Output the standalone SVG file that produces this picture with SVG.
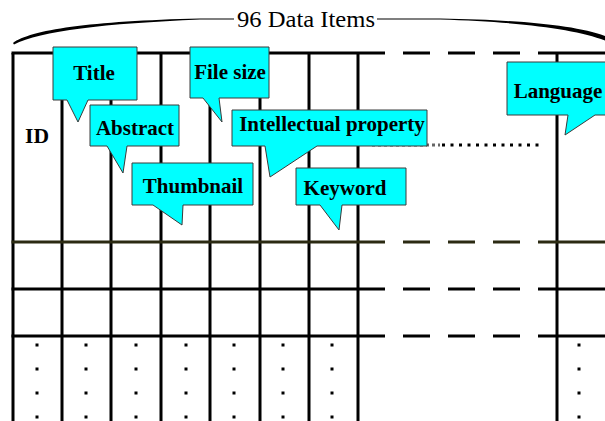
<svg xmlns="http://www.w3.org/2000/svg" width="605" height="421" viewBox="0 0 605 421">
<style>
.g{stroke:#000;stroke-width:3;fill:none}
.d{stroke:#000;stroke-width:3;fill:none;stroke-dasharray:27 18}
.olive{stroke:#2b2a12}
.co{fill:#00ffff;stroke:#3a3a3a;stroke-width:1}
.lbl{font-family:"Liberation Serif","Times New Roman",serif;font-weight:bold;font-size:21px;fill:#000;text-anchor:middle}
.hd{font-family:"Liberation Serif","Times New Roman",serif;font-size:23px;fill:#000}
.dot{fill:#000}
</style>
<defs>
<g id="dotcol">
<rect x="-1.5" y="343.5" width="3" height="3"/>
<rect x="-1.5" y="367.5" width="3" height="3"/>
<rect x="-1.5" y="391.5" width="3" height="3"/>
<rect x="-1.5" y="415.5" width="3" height="3"/>
</g>
</defs>
<rect width="605" height="421" fill="#fff"/>
<g id="header">
<path d="M13,43 C30,30 90,21 200,18.5 L234,18.5 L234,19.5 L200,19.5 C105,23.5 40,31 14,44.5 Z" fill="#000"/>
<path d="M377,18.5 L440,18.5 C520,20 575,25 605,36 L605,40.5 C575,29 520,22 440,19.5 L377,19.5 Z" fill="#000"/>
<text class="hd" x="237" y="27" textLength="138" lengthAdjust="spacingAndGlyphs">96 Data Items</text>
</g>
<g id="grid">
<line class="g" x1="13" y1="53" x2="13" y2="421"/>
<line class="g" x1="62" y1="53" x2="62" y2="421"/>
<line class="g" x1="111" y1="53" x2="111" y2="421"/>
<line class="g" x1="161" y1="53" x2="161" y2="421"/>
<line class="g" x1="210" y1="53" x2="210" y2="421"/>
<line class="g" x1="260" y1="53" x2="260" y2="421"/>
<line class="g" x1="309" y1="53" x2="309" y2="421"/>
<line class="g" x1="358" y1="53" x2="358" y2="421"/>
<line class="g" x1="557" y1="53" x2="557" y2="421" stroke-width="4"/>
<line class="g" x1="11.5" y1="53" x2="358" y2="53" stroke-width="4"/>
<line class="d" x1="358" y1="53" x2="557" y2="53" stroke-width="4" stroke-dasharray="29 16"/>
<line class="g" x1="557" y1="53" x2="605" y2="53" stroke-width="4"/>
<line class="g olive" x1="11.5" y1="242" x2="358" y2="242"/>
<line class="d olive" x1="358" y1="242" x2="557" y2="242"/>
<line class="g olive" x1="557" y1="242" x2="605" y2="242"/>
<line class="g" x1="11.5" y1="289" x2="358" y2="289"/>
<line class="d" x1="358" y1="289" x2="557" y2="289"/>
<line class="g" x1="557" y1="289" x2="605" y2="289"/>
<line class="g" x1="11.5" y1="336" x2="358" y2="336"/>
<line class="d" x1="358" y1="336" x2="557" y2="336"/>
<line class="g" x1="557" y1="336" x2="605" y2="336"/>
<line x1="372" y1="145" x2="440" y2="145" stroke="#666" stroke-width="3" stroke-dasharray="3 3"/>
<line x1="442" y1="145" x2="542" y2="145" stroke="#000" stroke-width="3" stroke-dasharray="3 5.5"/>
<g class="dot">
<use href="#dotcol" x="37"/>
<use href="#dotcol" x="86"/>
<use href="#dotcol" x="136"/>
<use href="#dotcol" x="186"/>
<use href="#dotcol" x="234"/>
<use href="#dotcol" x="283"/>
<use href="#dotcol" x="332"/>
<use href="#dotcol" x="579"/>
</g>
<text x="25" y="143" font-family="Liberation Serif, Times New Roman, serif" font-size="22" font-weight="bold" textLength="24" lengthAdjust="spacingAndGlyphs">ID</text>
</g>
<g id="connectors"></g>
<g id="title">
<path class="co" d="M53,47 H137 V100 H88 L78,122 L67,100 H53 Z"/>
<text class="lbl" x="94" y="80">Title</text>
</g>
<g id="filesize">
<path class="co" d="M190,47 H269 V98 H219 L222,122 L203,98 H190 Z"/>
<text class="lbl" x="230" y="79">File size</text>
</g>
<g id="abstract">
<path class="co" d="M90,105 H179 V146 H127 L123,173 L107,146 H90 Z"/>
<text class="lbl" x="135" y="135">Abstract</text>
</g>
<g id="thumbnail">
<path class="co" d="M132,163 H253 V205 H183 L182,225 L153,205 H132 Z"/>
<text class="lbl" x="193" y="193">Thumbnail</text>
</g>
<g id="intellectual">
<path class="co" d="M232,110 H427 V146 H317 L270,177 L265,146 H232 Z"/>
<text class="lbl" x="332" y="131">Intellectual property</text>
</g>
<g id="keyword">
<path class="co" d="M296,168 H406 V205 H342 L339,230 L320,205 H296 Z"/>
<text class="lbl" x="345" y="195">Keyword</text>
</g>
<g id="language">
<path class="co" d="M507,62 H612 V115 H595 L565,135 L568,115 H507 Z"/>
<text class="lbl" x="558" y="98">Language</text>
</g>
</svg>
